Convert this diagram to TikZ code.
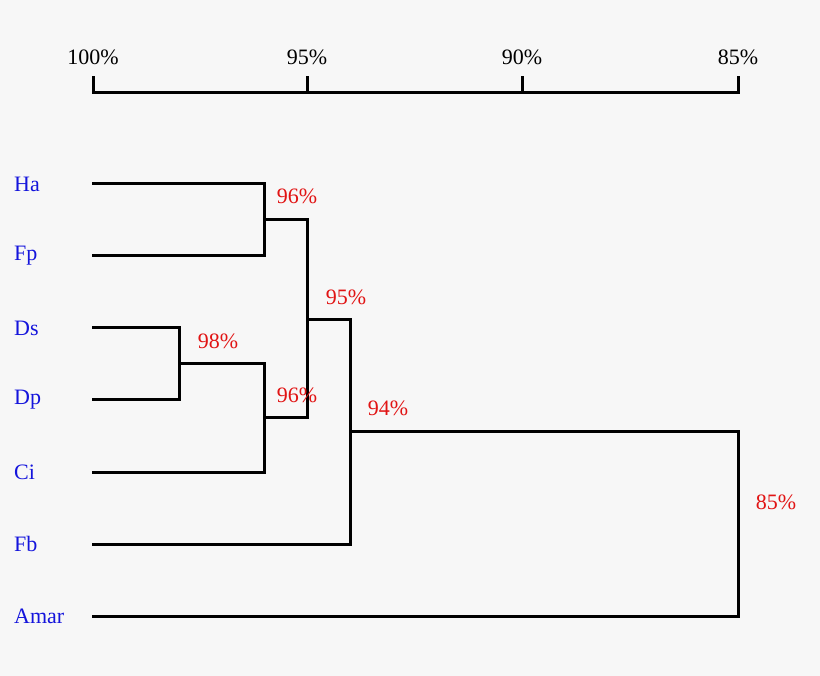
\documentclass[tikz,border=0pt]{standalone}
\usepackage{fontspec}
\setmainfont{Liberation Serif}
\usetikzlibrary{positioning}
\definecolor{bg}{RGB}{247,247,247}
\definecolor{leafblue}{RGB}{20,20,220}
\definecolor{simred}{RGB}{225,20,20}
\tikzset{
  branch/.style={line width=3pt,line cap=rect},
  leaf/.style={text=leafblue,font=\fontsize{22}{24}\selectfont,anchor=west,inner sep=0pt},
  sim/.style={text=simred,font=\fontsize{22}{24}\selectfont,inner sep=0pt},
  tick/.style={font=\fontsize{22}{24}\selectfont,inner sep=0pt}
}
\begin{document}
\begin{tikzpicture}[x=1pt,y=-1pt]
  \fill[bg] (0,0) rectangle (820,676);
  \useasboundingbox (0,0) rectangle (820,676);
  % scale
  \foreach \x/\t in {93/100\%,307/95\%,522/90\%,738/85\%}{
    \draw[branch] (\x,93) -- (\x,78);
    \node[tick] at (\x,57) {\t};
  }
  \draw[branch] (93,93) -- (738,93);
  % leaves
  \foreach \n/\t/\y/\e in {ha/Ha/184/264,fp/Fp/256/264,ds/Ds/328/179,dp/Dp/400/179,ci/Ci/472/264,fb/Fb/544/350,amar/Amar/616/738}{
    \node[leaf] (\n) at (14,\y) {\t};
    \coordinate (\n s) at (93,\y);
    \coordinate (\n e) at (\e,\y);
    \draw[branch] (\n s) -- (\n e);
  }
  % joins
  \coordinate (j1) at (264,220); \coordinate (j1e) at (307,220);
  \draw[branch] (hae) -- (fpe) (j1) -- (j1e);
  \coordinate (j2) at (179,364); \coordinate (j2e) at (264,364);
  \draw[branch] (dse) -- (dpe) (j2) -- (j2e);
  \coordinate (j3) at (264,418); \coordinate (j3e) at (307,418);
  \draw[branch] (j2e) -- (cie) (j3) -- (j3e);
  \coordinate (j4) at (307,320); \coordinate (j4e) at (350,320);
  \draw[branch] (j1e) -- (j3e) (j4) -- (j4e);
  \coordinate (j5) at (350,432); \coordinate (j5e) at (738,432);
  \draw[branch] (j4e) -- (fbe) (j5) -- (j5e);
  \draw[branch] (j5e) -- (amare);
  % similarities
  \node[sim] (s1) at (297,196) {96\%};
  \node[sim] (s2) at (218,341) {98\%};
  \node[sim] (s3) at (297,395) {96\%};
  \node[sim] (s4) at (346,297) {95\%};
  \node[sim] (s5) at (388,408) {94\%};
  \node[sim] (s6) at (776,502) {85\%};
\end{tikzpicture}
\end{document}
